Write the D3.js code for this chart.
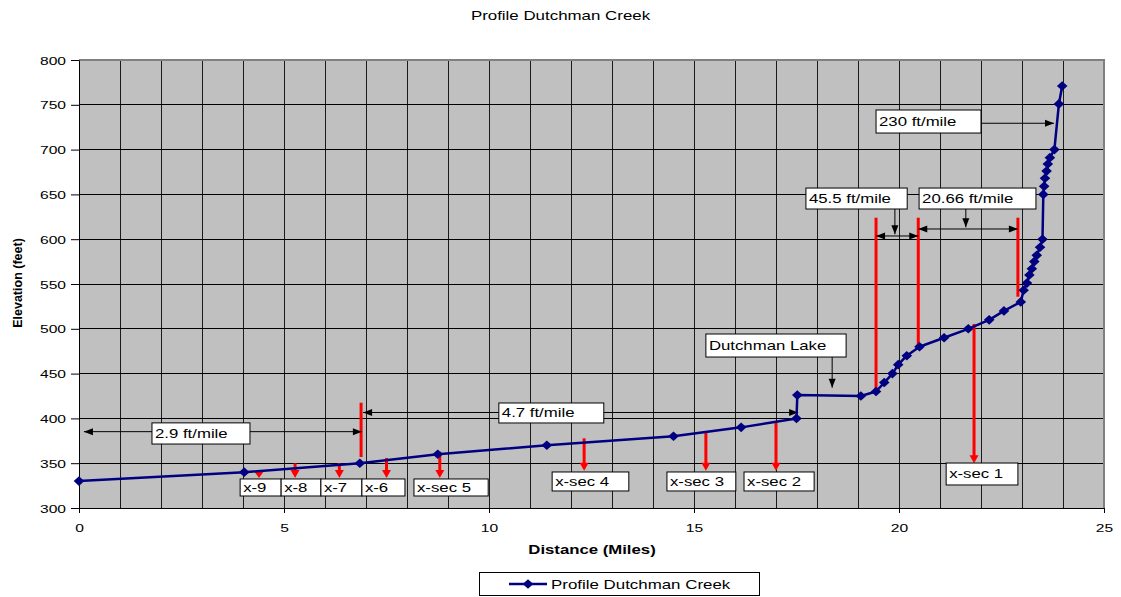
<!DOCTYPE html>
<html>
<head>
<meta charset="utf-8">
<title>Profile Dutchman Creek</title>
<script src="https://cdn.jsdelivr.net/npm/d3@7"></script>
<style>
  body { margin: 0; background: #fff; }
  svg { display: block; }
  text { font-family: "Liberation Sans", Arial, sans-serif; fill: #000; }
</style>
</head>
<body>
<svg id="chart" width="1121" height="597"></svg>
<script>
// Stream profile: distance along the creek (miles) and bed elevation (feet)
const distance = [
  0, 4.03, 6.85, 8.75, 11.41, 14.5, 16.15, 17.5, 17.52, 19.07,
  19.44, 19.64, 19.84, 19.98, 20.19, 20.5, 21.1, 21.69, 22.2, 22.56,
  22.97, 23.04, 23.12, 23.18, 23.24, 23.3, 23.36, 23.44, 23.5,
  23.52, 23.54, 23.56, 23.6, 23.63, 23.68, 23.79, 23.9, 23.98
];
const elevation = [
  330, 340, 350, 360, 370, 380, 390, 400, 426, 425,
  430, 440, 450, 460, 470, 480, 490, 500, 510, 520,
  530, 543, 551, 560, 567, 575, 582, 591, 600,
  650, 659, 668, 676, 684, 691, 700, 751, 771
];

const yTickValues = [300, 350, 400, 450, 500, 550, 600, 650, 700, 750, 800];
const xTickValues = [0, 5, 10, 15, 20, 25];
const xGridValues = d3.range(0, 26, 1);

// Callout boxes: label, left/right (miles), top/bottom (feet)
const noteLabels = ["2.9 ft/mile", "4.7 ft/mile", "Dutchman Lake", "45.5 ft/mile", "20.66 ft/mile", "230 ft/mile",
  "x-9", "x-8", "x-7", "x-6", "x-sec 5", "x-sec 4", "x-sec 3", "x-sec 2", "x-sec 1"];
const noteLeft   = [1.78, 10.24, 15.29, 17.73, 20.49, 19.44, 3.93, 4.93, 5.9, 6.9, 8.17, 11.54, 14.34, 16.22, 21.15];
const noteRight  = [4.17, 12.8, 18.71, 20.2, 23.34, 22.0, 4.93, 5.9, 6.9, 7.95, 9.98, 13.41, 16.02, 17.93, 22.9];
const noteTop    = [395, 417.2, 494.2, 657.1, 657.1, 744.2, 332.4, 332.4, 332.4, 332.4, 332.4, 340.2, 340.2, 340.2, 350.2];
const noteBottom = [371.4, 394.9, 468.5, 633.7, 633.7, 718.5, 313.4, 313.4, 313.4, 313.4, 313.4, 319, 319, 319, 325.7];

// Cross-section markers (red, arrow pointing down): mile, top (feet), tip (feet)
const sectionMile = [4.39, 5.27, 6.35, 7.5, 8.8, 12.32, 15.29, 17.0, 21.83];
const sectionTop  = [340.5, 349.9, 350.2, 355.8, 362.8, 377.8, 385.2, 395.2, 505.4];
const sectionTip  = [333.5, 333.5, 333.5, 333.5, 333.5, 341.6, 341.6, 341.6, 349.9];

// Reach limits (red, no arrowhead): mile, top (feet), bottom (feet)
const reachMile   = [6.88, 19.44, 20.47, 22.9];
const reachTop    = [417.5, 624, 624, 624];
const reachBottom = [356.9, 430.6, 479.7, 535.8];

// Dimension / leader arrows (black): from (mile, feet) to (mile, feet), heads at "end" or "both"
const leaderFrom = [[0.12, 385.2], [6.93, 406.6], [18.37, 468.5], [19.9, 633.7], [19.44, 603.6], [21.63, 633.7], [20.47, 611.4], [22.0, 729.4]];
const leaderTo   = [[6.9, 385.2], [17.54, 406.6], [18.37, 434.3], [19.9, 605.5], [20.47, 603.6], [21.63, 613.3], [22.9, 611.4], [23.78, 729.4]];
const leaderHeads = ["both", "both", "end", "end", "both", "end", "both", "end"];

const svg = d3.select("#chart");
const plot = { left: 79, right: 1104, top: 60, bottom: 508 };

const x = d3.scaleLinear().domain([0, 25]).range([plot.left, plot.right]);
const y = d3.scaleLinear().domain([300, 800]).range([plot.bottom, plot.top]);

const SX = 1.3;   // horizontal text widening used throughout the chart
function wideText(sel, px, py, str, opts = {}) {
  const { size = 13, anchor = "start", weight = "normal", sx = SX } = opts;
  return sel.append("text")
    .attr("transform", `translate(${px},${py}) scale(${sx},1)`)
    .attr("text-anchor", anchor)
    .attr("font-size", size)
    .attr("font-weight", weight)
    .text(str);
}

// Title
wideText(svg, 560.5, 19.5, "Profile Dutchman Creek", { size: 13, anchor: "middle", sx: 1.3 });

// Plot background
svg.append("rect")
  .attr("x", plot.left).attr("y", plot.top)
  .attr("width", plot.right - plot.left).attr("height", plot.bottom - plot.top)
  .attr("fill", "#C0C0C0");

// Gridlines
const grid = svg.append("g").attr("shape-rendering", "crispEdges");
grid.selectAll(".vg").data(xGridValues).join("line")
  .attr("x1", d => x(d)).attr("x2", d => x(d))
  .attr("y1", plot.top).attr("y2", plot.bottom)
  .attr("stroke", "#1a1a1a").attr("stroke-width", 1);
grid.selectAll(".hg").data(yTickValues).join("line")
  .attr("x1", plot.left).attr("x2", plot.right)
  .attr("y1", d => y(d)).attr("y2", d => y(d))
  .attr("stroke", "#000").attr("stroke-width", 1);

// Plot frame (top and right edges)
svg.append("path")
  .attr("d", `M${plot.left},${plot.top}H${plot.right}V${plot.bottom}`)
  .attr("fill", "none").attr("stroke", "#808080").attr("stroke-width", 2);

// Y axis
const yAxis = svg.append("g")
  .attr("transform", `translate(${plot.left},0)`)
  .call(d3.axisLeft(y).tickValues(yTickValues).tickSize(8).tickSizeOuter(0));
yAxis.select(".domain").attr("stroke", "#000");
yAxis.selectAll(".tick line").attr("stroke", "#000");
yAxis.selectAll(".tick text")
  .attr("font-family", "Liberation Sans, Arial, sans-serif")
  .attr("font-size", 11)
  .attr("x", 0).attr("dy", null).attr("y", 4)
  .attr("transform", `translate(-13,0) scale(1.42,1)`)
  .attr("fill", "#000");

// X axis (major ticks every 5 miles)
const xAxis = svg.append("g")
  .attr("transform", `translate(0,${plot.bottom})`)
  .call(d3.axisBottom(x).tickValues(xTickValues).tickSize(5).tickSizeOuter(0));
xAxis.select(".domain").attr("stroke", "#000");
xAxis.selectAll(".tick line").attr("stroke", "#000");
xAxis.selectAll(".tick text")
  .attr("font-family", "Liberation Sans, Arial, sans-serif")
  .attr("font-size", 11)
  .attr("dy", null).attr("y", 0)
  .attr("transform", "translate(0,24) scale(1.42,1)")
  .attr("fill", "#000");

// Axis titles
wideText(svg, 592, 554, "Distance (Miles)", { size: 12.5, anchor: "middle", weight: "bold", sx: 1.34 });
svg.append("text")
  .attr("transform", "translate(22,283) rotate(-90)")
  .attr("text-anchor", "middle")
  .attr("font-size", 12.5)
  .attr("font-weight", "bold")
  .text("Elevation (feet)");

// Arrowhead helper: filled triangle with tip at (tx, ty) pointing along angle
function arrowHead(sel, tx, ty, angle, len, half, color) {
  const bx = tx - len * Math.cos(angle), by = ty - len * Math.sin(angle);
  const nx = -Math.sin(angle) * half, ny = Math.cos(angle) * half;
  sel.append("path")
    .attr("d", `M${tx},${ty}L${bx + nx},${by + ny}L${bx - nx},${by - ny}Z`)
    .attr("fill", color);
}

// Reach limit lines
const red = svg.append("g");
reachMile.forEach((m, i) => {
  red.append("line")
    .attr("x1", x(m)).attr("x2", x(m))
    .attr("y1", y(reachTop[i])).attr("y2", y(reachBottom[i]))
    .attr("stroke", "#FF0000").attr("stroke-width", 3);
});

// Cross-section arrows
sectionMile.forEach((m, i) => {
  const x0 = x(m), yTop = y(sectionTop[i]), yTip = y(sectionTip[i]);
  const headLen = 8;
  if (yTip - yTop > headLen) {
    red.append("line")
      .attr("x1", x0).attr("x2", x0)
      .attr("y1", yTop).attr("y2", yTip - headLen + 1)
      .attr("stroke", "#FF0000").attr("stroke-width", 3);
  }
  arrowHead(red, x0, yTip, Math.PI / 2, Math.min(headLen, yTip - yTop), 4.5, "#FF0000");
});

// Black dimension and leader arrows
const blk = svg.append("g");
leaderFrom.forEach((f, i) => {
  const x1 = x(f[0]), y1 = y(f[1]), x2 = x(leaderTo[i][0]), y2 = y(leaderTo[i][1]);
  const ang = Math.atan2(y2 - y1, x2 - x1);
  blk.append("line")
    .attr("x1", x1).attr("y1", y1).attr("x2", x2).attr("y2", y2)
    .attr("stroke", "#000").attr("stroke-width", 1);
  arrowHead(blk, x2, y2, ang, 9, 3.5, "#000");
  if (leaderHeads[i] === "both") arrowHead(blk, x1, y1, ang + Math.PI, 9, 3.5, "#000");
});

// Profile line with diamond markers
const pts = distance.map((d, i) => [d, elevation[i]]);
svg.append("path")
  .datum(pts)
  .attr("fill", "none")
  .attr("stroke", "#000080")
  .attr("stroke-width", 2.5)
  .attr("stroke-linejoin", "round")
  .attr("d", d3.line().x(d => x(d[0])).y(d => y(d[1])));
const diamond = "M0,-4.8L5.3,0L0,4.8L-5.3,0Z";
svg.append("g").selectAll("path").data(pts).join("path")
  .attr("transform", d => `translate(${x(d[0])},${y(d[1])})`)
  .attr("d", diamond)
  .attr("fill", "#000080");

// Callout boxes
const notes = svg.append("g");
noteLabels.forEach((label, i) => {
  const x0 = x(noteLeft[i]), x1 = x(noteRight[i]);
  const y0 = y(noteTop[i]), y1 = y(noteBottom[i]);
  notes.append("rect")
    .attr("x", x0).attr("y", y0)
    .attr("width", x1 - x0).attr("height", y1 - y0)
    .attr("fill", "#fff").attr("stroke", "#000").attr("stroke-width", 1);
  wideText(notes, x0 + 3, (y0 + y1) / 2 + 4.5, label, { size: 13, sx: 1.29 });
});

// Legend
const legend = svg.append("g");
legend.append("rect")
  .attr("x", 479.5).attr("y", 572.5).attr("width", 280).attr("height", 23)
  .attr("fill", "#fff").attr("stroke", "#000").attr("stroke-width", 1);
legend.append("line")
  .attr("x1", 509).attr("x2", 547).attr("y1", 584).attr("y2", 584)
  .attr("stroke", "#000080").attr("stroke-width", 2.5);
legend.append("path")
  .attr("transform", "translate(528,584)")
  .attr("d", diamond)
  .attr("fill", "#000080");
wideText(legend, 551, 589, "Profile Dutchman Creek", { size: 13, sx: 1.3 });
</script>
</body>
</html>
